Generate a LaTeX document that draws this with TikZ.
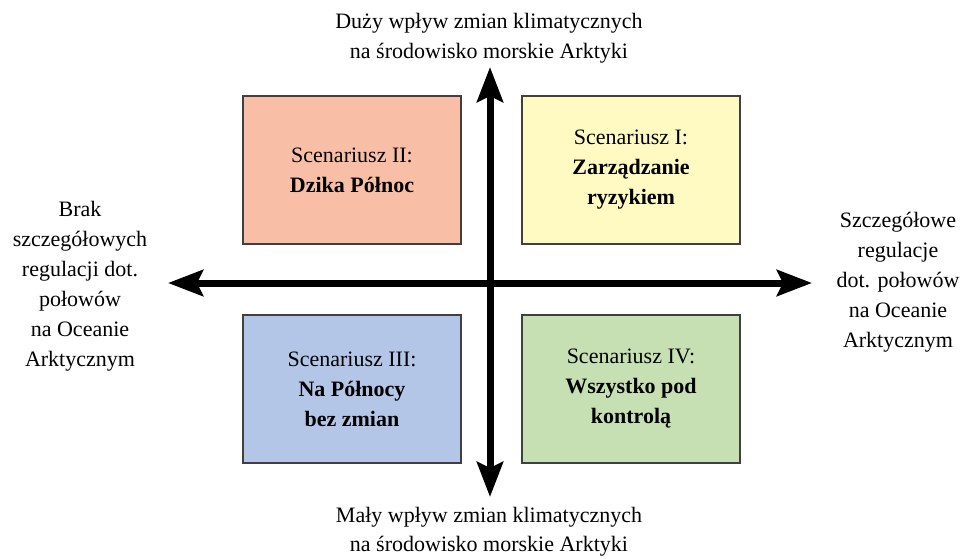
\documentclass[tikz,border=0pt]{standalone}
\usepackage{fontspec}
\setmainfont{Liberation Serif}
\usetikzlibrary{arrows.meta}
\definecolor{peach}{HTML}{F9BFA6}
\definecolor{paleyellow}{HTML}{FFFAC2}
\definecolor{paleblue}{HTML}{B4C6E7}
\definecolor{palegreen}{HTML}{C6E0B4}
\definecolor{edge}{HTML}{404040}
\begin{document}
\begin{tikzpicture}[x=1pt,y=-1pt,
  every node/.style={font=\fontsize{22}{30}\selectfont, align=center, inner sep=0pt},
  quad/.style={draw=edge, line width=1.6pt, minimum width=218pt, minimum height=148pt},
  axis/.style={line width=7pt, {Stealth[length=35pt,width=26pt,inset=6pt]}-{Stealth[length=35pt,width=26pt,inset=6pt]}}]
\useasboundingbox (0,0) rectangle (967,559);
% scenario boxes
\node[quad, fill=peach]      (s2) at (352,170) {Scenariusz II:\\\textbf{Dzika Północ}};
\node[quad, fill=paleyellow] (s1) at (631,170) {Scenariusz I:\\\textbf{Zarządzanie}\\\textbf{ryzykiem}};
\node[quad, fill=paleblue]   (s3) at (352,389) {Scenariusz III:\\\textbf{Na Północy}\\\textbf{bez zmian}};
\node[quad, fill=palegreen]  (s4) at (631,389) {Scenariusz IV:\\\textbf{Wszystko pod}\\\textbf{kontrolą}};
% axes
\coordinate (top) at (490,67);
\coordinate (bottom) at (490,497);
\coordinate (left) at (168,283);
\coordinate (right) at (812,283);
\draw[axis] (left) -- (right);
\draw[axis] (bottom) -- (top);
% axis labels
\node (ltop) at (489,38) {Duży wpływ zmian klimatycznych\\na środowisko morskie Arktyki};
\node[font=\fontsize{22}{29}\selectfont] (lbottom) at (489,532) {Mały wpływ zmian klimatycznych\\na środowisko morskie Arktyki};
\node (lleft) at (80,286) {Brak\\szczegółowych\\regulacji dot.\\połowów\\na Oceanie\\Arktycznym};
\node (lright) at (898,282) {Szczegółowe\\regulacje\\dot. połowów\\na Oceanie\\Arktycznym};
\end{tikzpicture}
\end{document}
